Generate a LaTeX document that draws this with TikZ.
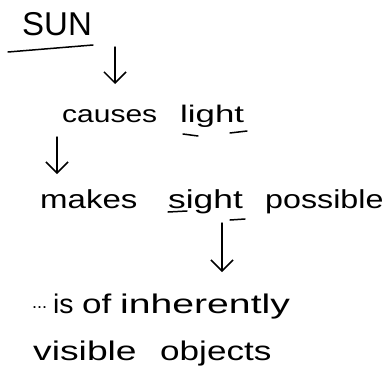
\documentclass[tikz,border=0pt]{standalone}
\usepackage{fontspec}
\setmainfont{Liberation Sans}
\usetikzlibrary{arrows.meta}
\newcommand\hwsx[2]{\scalebox{#1}[1]{#2}}
\begin{document}
\begin{tikzpicture}[x=1pt,y=-1pt,
  txt/.style={inner sep=0pt, anchor=base west},
  fa/.style={font=\fontsize{24}{28}\selectfont},
  fb/.style={font=\fontsize{26}{30}\selectfont},
  fc/.style={font=\fontsize{27}{30}\selectfont},
  ink/.style={line width=1.5pt, line cap=round, line join=round, black},
  arr/.style={ink, -{Straight Barb[length=11pt,width=22pt]}}]
\useasboundingbox (0,0) rectangle (385,388);
\node[txt, font=\fontsize{33}{36}\selectfont] (sun) at (22,35) {SUN};
\node[txt, fa] (causes) at (62,122) {\hwsx{1.25}{causes}};
\node[txt, fa] (light) at (180,122) {\hwsx{1.45}{light}};
\node[txt, fb] (makes) at (40,208) {\hwsx{1.27}{makes}};
\node[txt, fb] (sight) at (168,208) {\hwsx{1.36}{sight}};
\node[txt, fb] (possible) at (265,208) {\hwsx{1.24}{possible}};
\node[txt, font=\fontsize{18}{20}\selectfont] (dots) at (32,308) {...};
\node[txt, fc] (is) at (53,313) {\hwsx{1.05}{is}};
\node[txt, fc] (of) at (82,313) {\hwsx{1.3}{of}};
\node[txt, fc] (inherently) at (120,313) {\hwsx{1.45}{inherently}};
\node[txt, fc] (visible) at (33,360) {\hwsx{1.38}{visible}};
\node[txt, fc] (objects) at (160,360) {\hwsx{1.3}{objects}};
% underlines
\draw[ink] (8,52) -- (93,45);
\draw[ink] (183,134) -- (198,136);
\draw[ink] (230,133) -- (247,131);
\draw[ink] (168,212) -- (187,211);
\draw[ink] (230,220) -- (245,219);
% arrows
\coordinate (a1s) at (115,47); \coordinate (a1e) at (115,84);
\coordinate (a2s) at (57,137); \coordinate (a2e) at (57,174);
\coordinate (a3s) at (222,223); \coordinate (a3e) at (222,272);
\draw[arr] (a1s) -- (a1e);
\draw[arr] (a2s) -- (a2e);
\draw[arr] (a3s) -- (a3e);
\end{tikzpicture}
\end{document}
